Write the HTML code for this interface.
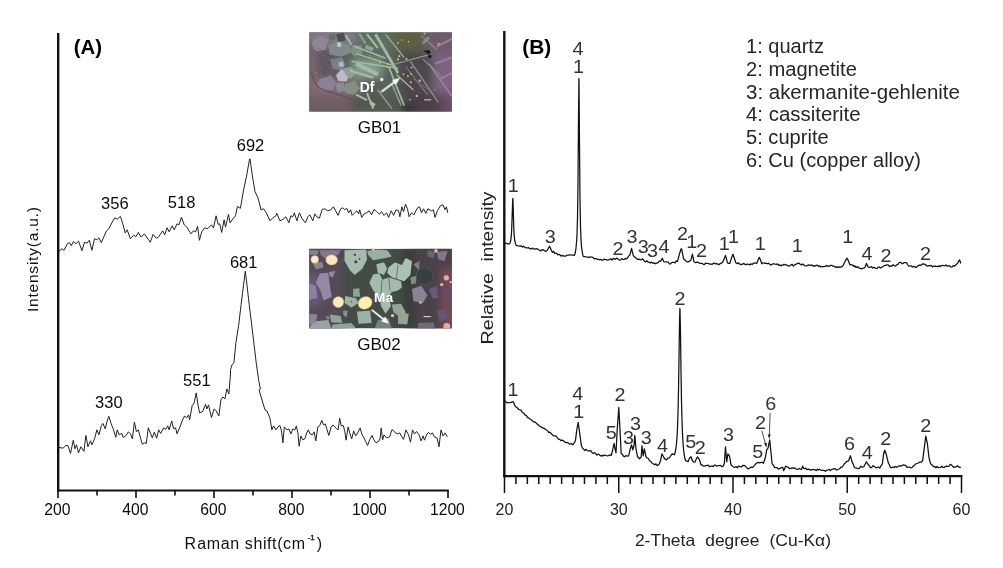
<!DOCTYPE html>
<html><head><meta charset="utf-8"><title>Figure</title>
<style>html,body{margin:0;padding:0;background:#fff}svg{display:block}</style>
</head><body>
<svg width="1003" height="568" viewBox="0 0 1003 568">
<rect width="1003" height="568" fill="#fff"/>
<g stroke="#111" fill="none">
<path d="M58.2,33 V491.5" stroke-width="2.4"/>
<path d="M57,490.5 H448.6" stroke-width="2"/>
<path d="M58.00,490 V498 M97.00,490 V495.5 M136.00,490 V498 M175.00,490 V495.5 M214.00,490 V498 M253.00,490 V495.5 M292.00,490 V498 M331.00,490 V495.5 M370.00,490 V498 M409.00,490 V495.5 M448.00,490 V498 " stroke-width="1.6"/>
</g>
<g stroke="#111" fill="none">
<path d="M504.3,31 V477.2" stroke-width="2.4"/>
<path d="M503.4,476.2 H962.4" stroke-width="2.2"/>
<path d="M504.50,476 V493 M515.92,476 V484 M527.35,476 V484 M538.77,476 V484 M550.20,476 V484 M561.62,476 V484 M573.05,476 V484 M584.48,476 V484 M595.90,476 V484 M607.33,476 V484 M618.75,476 V493 M630.17,476 V484 M641.60,476 V484 M653.02,476 V484 M664.45,476 V484 M675.88,476 V484 M687.30,476 V484 M698.73,476 V484 M710.15,476 V484 M721.58,476 V484 M733.00,476 V493 M744.42,476 V484 M755.85,476 V484 M767.28,476 V484 M778.70,476 V484 M790.12,476 V484 M801.55,476 V484 M812.98,476 V484 M824.40,476 V484 M835.83,476 V484 M847.25,476 V493 M858.67,476 V484 M870.10,476 V484 M881.53,476 V484 M892.95,476 V484 M904.38,476 V484 M915.80,476 V484 M927.23,476 V484 M938.65,476 V484 M950.08,476 V484 M961.50,476 V493 " stroke-width="1.5"/>
</g>
<path d="M58.6,251.7 L62.0,248.7 L64.0,250.3 L67.4,243.7 L69.4,242.7 L71.3,245.7 L73.3,241.7 L75.9,243.7 L78.5,241.1 L81.9,250.7 L84.5,242.3 L86.9,243.1 L89.3,240.3 L91.9,250.3 L94.5,238.8 L96.9,239.8 L98.9,237.8 L101.3,242.7 L103.8,236.8 L106.5,230.8 L108.8,228.8 L111.8,222.8 L114.8,217.8 L117.2,219.2 L120.4,216.4 L122.8,223.8 L125.2,232.8 L127.2,229.8 L130.4,238.8 L133.8,235.2 L135.8,236.8 L138.3,232.4 L141.1,237.2 L144.3,233.8 L147.1,237.8 L150.3,242.3 L153.1,234.4 L156.3,238.3 L158.7,236.8 L162.7,230.8 L164.7,234.8 L167.1,227.8 L169.1,231.8 L172.2,225.8 L174.2,229.8 L177.0,223.8 L179.0,224.8 L181.4,217.2 L184.2,224.8 L186.6,226.8 L191.0,233.8 L193.4,230.8 L195.6,231.8 L197.6,226.4 L199.4,240.3 L201.8,231.8 L204.6,227.8 L207.5,228.8 L211.5,224.8 L213.5,227.8 L216.1,215.8 L218.1,224.4 L219.7,223.8 L221.7,232.4 L224.1,219.8 L225.5,227.2 L228.5,214.4 L230.1,222.8 L232.9,218.8 L235.5,215.8 L237.4,206.4 L240.4,208.4 L243.4,190.9 L246.4,176.9 L249.6,159.0 L250.0,158.9 L252.4,175.9 L255.0,191.8 L258.0,197.8 L261.0,209.8 L263.6,208.8 L266.4,212.8 L269.9,220.8 L272.9,217.8 L275.9,215.8 L276.9,213.4 L279.9,220.8 L282.9,219.4 L285.9,216.8 L288.9,222.8 L290.9,215.8 L292.9,216.8 L294.3,212.8 L296.9,220.8 L299.4,212.8 L302.2,218.8 L305.4,222.8 L307.8,216.8 L309.8,214.8 L312.8,220.8 L314.8,213.8 L316.8,216.8 L319.4,218.2 L322.2,209.4 L324.8,208.8 L327.8,210.8 L330.8,209.8 L333.4,206.8 L336.1,211.8 L338.1,215.4 L340.7,208.8 L342.7,207.8 L344.7,209.8 L346.7,208.2 L348.7,212.8 L350.7,209.8 L352.1,215.4 L354.7,212.8 L356.7,210.8 L358.7,213.8 L359.7,209.8 L361.7,217.4 L364.1,213.8 L366.6,212.8 L369.2,210.8 L371.6,214.8 L374.0,209.4 L376.6,211.4 L379.2,214.2 L381.6,211.8 L384.0,215.4 L386.6,212.8 L388.6,217.4 L391.2,210.8 L393.6,215.4 L396.0,209.8 L398.6,210.8 L399.9,216.8 L401.9,206.8 L403.5,211.8 L405.5,204.2 L407.5,208.8 L409.1,216.8 L411.5,212.8 L413.9,214.8 L417.5,207.8 L419.5,206.8 L421.5,212.8 L423.5,208.8 L425.9,213.4 L427.9,208.8 L431.5,210.8 L433.4,209.8 L435.0,217.4 L437.4,210.8 L440.4,205.8 L443.0,204.8 L445.0,209.8 L446.4,206.8 L447.8,212.8" fill="none" stroke="#222" stroke-width="1" stroke-linejoin="round"/>
<path d="M59.0,447.4 L63.0,448.2 L66.0,445.4 L68.0,445.8 L70.5,453.4 L73.3,440.2 L74.9,448.8 L76.5,444.8 L78.5,452.8 L80.9,446.8 L83.9,451.4 L85.9,435.4 L87.9,446.8 L90.5,440.8 L91.9,444.8 L94.5,438.8 L96.9,429.8 L98.9,434.8 L101.3,425.8 L102.9,423.4 L105.2,428.8 L107.2,420.9 L108.8,416.3 L111.2,423.8 L113.2,428.8 L115.8,437.4 L117.2,429.8 L119.2,434.8 L121.8,433.4 L123.2,437.4 L125.8,435.8 L128.4,431.8 L130.4,433.8 L132.4,438.8 L134.4,422.2 L136.4,431.8 L138.3,429.8 L140.7,438.8 L142.3,444.2 L144.3,442.8 L146.3,443.4 L148.3,427.8 L150.7,433.8 L152.3,437.8 L154.3,432.2 L156.7,438.2 L158.7,429.8 L160.7,433.4 L163.7,427.8 L165.7,429.4 L167.7,425.8 L169.1,429.8 L171.7,420.9 L173.6,428.8 L175.6,427.8 L177.0,433.8 L179.6,427.8 L182.6,419.9 L184.6,415.9 L186.6,417.9 L188.6,414.9 L189.6,419.9 L192.2,405.5 L194.2,402.9 L196.2,392.9 L198.2,405.9 L199.6,412.9 L202.6,411.5 L205.6,404.3 L206.9,408.9 L208.5,404.9 L211.5,417.5 L214.1,408.9 L216.1,410.9 L218.9,415.9 L220.9,399.9 L222.9,396.9 L224.9,398.9 L226.9,388.9 L228.9,393.9 L230.5,374.0 L230.5,369.7 L232.2,364.4 L234.0,362.7 L235.8,343.3 L238.6,325.7 L241.1,304.6 L243.5,285.2 L245.3,271.1 L247.0,285.2 L249.2,304.6 L251.6,323.9 L254.1,345.1 L256.2,362.7 L258.7,380.3 L260.4,389.1 L259.0,390.0 L262.0,400.0 L265.0,409.9 L266.9,410.9 L269.9,417.9 L271.9,429.9 L273.5,425.9 L275.9,429.9 L277.9,426.9 L279.9,425.5 L281.5,430.9 L282.9,442.8 L284.3,426.9 L286.9,429.9 L288.9,428.9 L290.9,433.9 L292.9,428.9 L294.9,429.9 L296.3,425.9 L297.9,432.9 L299.1,446.2 L300.9,435.9 L302.8,439.9 L304.8,438.9 L306.8,432.9 L308.2,429.9 L310.2,433.9 L312.2,434.9 L314.2,431.9 L315.8,440.9 L317.8,426.9 L319.8,425.5 L321.8,420.3 L323.4,424.9 L325.4,423.9 L326.8,428.9 L328.8,435.5 L330.8,427.9 L332.8,424.9 L334.8,426.9 L336.7,428.9 L338.1,429.9 L339.7,418.3 L341.3,425.9 L343.3,425.5 L344.7,430.9 L346.1,440.2 L348.1,426.9 L349.7,432.9 L351.7,438.9 L353.7,430.9 L355.7,435.9 L357.7,432.9 L360.1,427.9 L362.1,434.9 L364.1,437.9 L365.6,441.4 L367.6,445.4 L369.6,439.9 L372.0,435.5 L374.0,439.9 L376.0,442.8 L378.6,441.4 L380.0,438.9 L381.2,427.9 L382.6,439.9 L384.0,434.9 L386.6,437.9 L389.6,436.9 L392.0,429.5 L394.6,431.9 L397.2,433.9 L399.6,432.9 L401.6,436.3 L403.5,439.4 L405.9,429.9 L408.5,434.9 L410.5,442.2 L412.5,429.9 L414.5,433.9 L416.5,431.5 L419.1,434.9 L421.1,440.9 L423.1,435.9 L424.5,440.2 L426.5,434.9 L428.5,432.3 L430.5,434.3 L432.4,432.9 L434.4,436.9 L437.0,437.9 L439.0,446.8 L441.0,429.9 L443.0,435.9 L445.0,432.9 L447.4,436.9" fill="none" stroke="#222" stroke-width="1" stroke-linejoin="round"/>
<path d="M505.0,243.4 L506.5,243.3 L508.0,243.8 L508.5,243.9 L509.0,244.0 L509.5,243.8 L510.1,242.8 L510.6,241.1 L511.1,238.0 L511.6,231.6 L512.1,218.0 L512.7,199.7 L512.8,198.3 L513.2,207.4 L513.7,225.8 L514.2,235.7 L514.7,240.5 L515.3,243.0 L515.8,244.5 L516.3,245.5 L516.8,245.6 L517.3,245.7 L517.9,245.8 L518.4,245.9 L518.9,246.0 L519.4,246.1 L519.9,246.2 L521.2,245.8 L522.4,247.1 L523.7,246.2 L524.9,247.4 L526.2,247.8 L527.4,247.8 L528.7,247.6 L529.9,248.8 L531.2,248.9 L532.4,248.1 L533.7,249.0 L534.9,249.2 L536.1,248.6 L537.4,248.9 L538.6,249.8 L539.9,250.2 L541.0,250.9 L542.2,249.6 L543.4,249.9 L544.5,250.8 L545.7,251.6 L546.9,250.8 L548.2,248.6 L549.5,246.2 L550.5,248.3 L551.5,250.8 L552.5,252.4 L553.6,251.2 L554.6,253.5 L555.7,253.0 L556.8,253.4 L557.8,254.8 L559.0,254.3 L560.2,255.0 L561.4,256.2 L562.6,255.3 L563.8,256.2 L565.0,256.1 L566.2,255.9 L567.4,255.1 L568.6,255.2 L569.8,254.8 L570.3,254.8 L570.8,254.9 L571.3,255.0 L571.8,255.1 L572.4,255.1 L572.9,255.2 L573.4,255.2 L573.9,255.3 L574.4,255.4 L574.9,254.0 L575.4,252.0 L575.9,248.8 L576.4,243.8 L577.0,235.0 L577.5,218.2 L578.0,183.6 L578.5,117.7 L578.9,78.5 L579.0,81.0 L579.5,145.1 L580.0,199.6 L580.5,226.1 L581.0,239.4 L581.5,246.6 L582.1,251.0 L582.6,253.8 L583.1,255.7 L583.6,256.6 L584.1,256.6 L584.6,256.7 L585.1,256.8 L585.6,256.8 L586.1,256.9 L586.7,257.0 L587.2,257.0 L587.7,257.1 L588.2,257.2 L588.7,257.2 L589.2,257.3 L589.7,257.4 L590.8,256.8 L591.9,257.0 L593.1,257.6 L594.2,258.8 L595.3,258.6 L596.4,258.6 L597.5,259.4 L598.6,259.4 L599.7,259.8 L600.8,259.3 L601.9,260.3 L603.0,260.0 L604.1,259.1 L605.2,259.7 L606.3,259.5 L607.5,260.2 L608.6,259.9 L609.7,259.4 L610.8,258.9 L611.9,260.1 L613.1,258.3 L614.2,258.9 L615.4,259.4 L616.5,258.1 L617.6,258.8 L619.6,260.2 L620.8,259.8 L621.9,258.6 L623.1,259.5 L624.2,259.3 L625.3,258.6 L626.5,258.9 L627.6,257.8 L628.8,255.9 L630.0,254.8 L631.6,248.4 L633.2,255.4 L634.3,256.8 L635.4,257.6 L636.5,258.5 L637.6,259.4 L638.8,259.1 L640.1,259.7 L641.3,259.8 L642.6,258.8 L643.6,260.0 L644.6,261.4 L645.7,261.8 L646.9,260.7 L648.1,262.2 L649.2,262.2 L650.4,263.0 L651.5,262.1 L652.9,263.3 L654.2,262.8 L655.5,263.8 L656.8,262.9 L658.0,262.9 L659.3,261.0 L660.5,261.4 L662.3,258.2 L663.9,261.8 L665.0,262.0 L666.1,261.8 L667.2,262.0 L668.3,262.2 L669.4,264.0 L670.5,263.8 L671.7,262.6 L672.8,262.4 L674.0,262.3 L675.1,262.9 L676.3,260.9 L677.5,261.4 L679.5,253.8 L681.1,248.8 L681.6,248.8 L683.6,258.8 L684.7,259.7 L685.9,260.9 L687.0,261.8 L688.3,261.9 L689.6,261.1 L691.0,259.8 L692.4,254.2 L694.0,261.8 L695.5,262.7 L697.0,262.2 L698.4,262.4 L699.9,263.4 L701.0,263.3 L702.2,263.3 L703.3,264.4 L704.4,264.7 L705.5,263.2 L706.6,263.3 L707.7,263.5 L708.8,263.6 L709.9,264.2 L711.0,264.1 L712.1,264.3 L713.2,263.6 L714.3,263.0 L715.4,263.8 L716.6,263.7 L717.7,264.0 L718.8,264.8 L719.9,263.8 L721.4,263.2 L722.9,261.8 L724.2,258.7 L725.5,255.4 L726.5,259.1 L727.5,262.8 L728.7,263.3 L729.9,263.4 L731.5,257.8 L733.0,254.2 L734.4,258.5 L735.8,262.8 L737.2,263.6 L738.5,262.9 L739.8,264.2 L741.1,264.7 L742.5,264.2 L743.8,263.4 L745.0,264.4 L746.2,264.6 L747.4,264.0 L748.6,264.3 L749.8,264.8 L751.0,263.8 L752.1,264.6 L753.3,263.2 L754.4,263.0 L755.6,263.1 L756.8,263.4 L758.1,259.7 L759.4,257.4 L760.6,260.3 L761.8,263.8 L762.9,263.0 L764.0,262.9 L765.2,263.3 L766.3,263.2 L767.5,263.8 L768.6,263.2 L769.7,264.2 L770.8,265.0 L771.9,264.6 L773.1,263.7 L774.2,264.0 L775.3,264.2 L776.4,264.3 L777.5,263.9 L778.6,265.4 L779.7,264.8 L780.8,265.9 L781.9,265.0 L783.0,265.1 L784.1,264.4 L785.2,264.6 L786.3,265.2 L787.5,265.1 L788.6,266.3 L789.7,265.8 L790.9,264.9 L792.2,264.4 L793.4,266.0 L794.7,264.8 L796.2,264.2 L797.6,263.4 L799.0,263.2 L800.3,264.4 L801.6,264.8 L802.8,263.9 L803.9,265.0 L805.1,266.0 L806.2,265.9 L807.3,265.6 L808.5,264.8 L809.6,265.4 L810.7,265.2 L811.8,264.8 L812.9,266.1 L814.0,265.6 L815.1,266.2 L816.3,265.3 L817.4,265.2 L818.5,266.4 L819.6,265.8 L820.7,266.8 L821.8,266.6 L822.9,266.5 L824.0,266.6 L825.1,266.5 L826.2,265.5 L827.3,266.1 L828.4,265.9 L829.5,266.2 L830.7,265.3 L831.8,265.4 L832.9,266.0 L834.0,266.0 L835.1,266.9 L836.2,267.5 L837.3,266.6 L838.4,267.6 L839.5,266.8 L840.9,267.1 L842.2,266.4 L843.5,264.8 L844.7,262.3 L845.9,259.9 L847.1,258.2 L848.5,261.0 L849.9,264.8 L851.0,264.5 L852.1,264.8 L853.2,265.9 L854.4,266.7 L855.5,266.2 L854.2,266.5 L852.9,265.4 L854.0,265.8 L855.2,266.7 L856.4,267.4 L857.6,266.5 L858.8,267.8 L860.2,268.3 L861.5,268.9 L862.8,268.2 L864.0,268.1 L865.2,266.8 L866.4,263.4 L868.0,266.8 L869.1,267.5 L870.3,267.1 L871.4,266.7 L872.5,268.0 L873.6,267.3 L874.8,267.8 L875.9,268.3 L877.1,268.5 L878.2,267.2 L879.3,267.0 L880.5,268.0 L881.6,267.4 L882.8,266.8 L884.3,265.4 L885.8,265.4 L887.0,264.8 L888.2,264.9 L889.5,266.5 L890.7,265.8 L891.9,266.2 L893.1,264.7 L894.3,265.9 L895.5,266.0 L896.7,264.8 L897.9,264.3 L899.1,262.8 L900.3,262.2 L901.5,263.1 L902.7,263.8 L904.2,262.5 L905.7,262.6 L906.7,262.7 L907.7,264.8 L908.9,266.1 L910.0,265.8 L911.2,265.9 L912.3,267.0 L913.5,266.3 L914.7,266.8 L915.9,267.3 L917.1,266.9 L918.3,265.4 L919.5,265.2 L920.6,265.4 L922.1,264.2 L923.6,263.8 L925.1,264.3 L926.6,265.8 L927.8,266.1 L928.9,265.5 L930.0,265.9 L931.2,265.4 L932.3,267.0 L933.5,266.0 L934.6,266.4 L935.7,266.2 L936.9,266.3 L938.0,266.8 L939.2,265.7 L940.3,266.5 L941.4,265.5 L942.6,265.4 L943.7,265.7 L944.9,265.8 L946.0,265.0 L947.1,266.1 L948.3,265.8 L949.4,265.6 L950.6,266.8 L951.9,267.2 L953.2,265.7 L954.5,266.2 L956.0,264.8 L957.5,263.4 L959.5,259.8 L960.9,263.4" fill="none" stroke="#111" stroke-width="1.25" stroke-linejoin="round"/>
<path d="M505.0,400.9 L506.5,402.4 L508.0,402.9 L509.5,402.7 L511.0,402.3 L513.0,401.5 L514.0,403.4 L515.0,405.9 L516.2,407.0 L517.5,408.0 L518.7,409.5 L519.9,409.9 L521.2,410.4 L522.4,412.5 L523.7,413.1 L524.9,414.9 L526.2,415.4 L527.4,417.4 L528.7,417.9 L529.9,418.9 L531.2,419.8 L532.4,420.9 L533.7,421.9 L534.9,421.9 L536.1,422.9 L537.4,424.3 L538.6,425.2 L539.9,426.3 L541.1,426.9 L542.4,427.9 L543.6,428.1 L544.9,428.9 L546.1,429.8 L547.4,430.5 L548.6,432.3 L549.9,432.2 L551.1,433.5 L552.3,434.8 L553.6,435.8 L554.8,435.8 L556.1,436.2 L557.3,437.7 L558.6,439.4 L559.8,439.4 L561.1,440.8 L562.3,440.1 L563.6,440.8 L564.8,442.2 L566.1,442.6 L567.3,442.4 L568.5,443.2 L569.8,444.2 L571.3,443.7 L572.8,444.8 L574.1,443.2 L575.4,440.8 L576.8,429.9 L578.2,422.3 L579.8,433.8 L581.4,445.8 L582.6,448.2 L583.8,449.4 L584.9,450.5 L586.1,449.3 L587.3,450.7 L588.5,450.8 L589.7,450.8 L590.9,450.7 L592.1,452.8 L593.3,453.5 L594.5,452.6 L595.7,453.8 L596.9,455.0 L598.1,454.2 L599.3,454.7 L600.5,456.0 L601.7,455.4 L602.9,456.1 L604.1,454.9 L605.3,455.5 L606.5,455.7 L607.7,455.8 L608.9,455.3 L610.1,454.9 L611.3,455.4 L612.7,449.8 L614.1,443.4 L615.2,449.8 L616.0,452.8 L617.2,429.9 L618.8,407.5 L620.0,429.9 L621.2,453.8 L622.4,454.4 L623.5,456.2 L624.6,456.8 L626.0,455.5 L627.3,456.2 L628.6,455.8 L630.0,449.8 L631.6,444.8 L632.8,449.8 L634.0,445.8 L634.8,435.4 L636.0,448.8 L637.6,456.8 L639.6,458.8 L641.2,456.8 L642.0,445.8 L643.2,455.8 L644.4,448.8 L646.0,456.8 L647.2,458.0 L648.4,458.5 L649.5,460.8 L650.8,461.4 L652.0,463.0 L653.3,463.8 L654.5,464.8 L655.9,463.9 L657.2,465.7 L658.5,464.8 L659.5,463.3 L660.5,460.8 L661.9,453.8 L663.5,456.8 L665.0,459.2 L666.5,459.8 L668.0,458.0 L669.5,457.8 L671.0,455.3 L672.5,453.8 L673.0,454.0 L673.5,454.3 L674.0,454.6 L674.5,454.6 L675.0,453.0 L675.5,450.8 L676.0,447.8 L676.5,443.5 L677.0,437.2 L677.5,427.8 L678.0,413.3 L678.5,390.8 L679.0,358.2 L679.5,322.2 L679.9,308.5 L680.0,309.1 L680.5,333.4 L681.0,370.7 L681.5,400.7 L682.0,420.8 L682.5,433.9 L683.0,442.7 L683.5,448.7 L684.0,453.1 L684.5,456.3 L685.0,458.8 L685.5,460.5 L686.0,460.7 L686.5,461.0 L687.0,461.2 L687.5,461.5 L688.0,461.8 L689.5,458.3 L691.0,456.8 L692.4,460.8 L693.7,462.0 L695.0,462.1 L696.3,459.0 L697.5,456.8 L698.9,458.8 L699.9,461.0 L700.9,464.8 L702.2,464.8 L703.4,466.1 L704.7,466.1 L705.9,465.7 L707.1,465.3 L708.3,465.2 L709.5,466.8 L710.7,466.2 L711.9,466.1 L713.1,466.5 L714.2,465.2 L715.4,465.1 L716.6,466.2 L717.7,465.7 L718.9,465.7 L720.4,465.4 L721.9,466.7 L723.1,466.1 L724.3,463.8 L725.5,446.8 L726.7,461.8 L727.9,453.8 L729.5,455.8 L731.0,464.8 L732.3,465.9 L733.6,467.1 L734.8,467.3 L736.1,466.4 L737.3,467.8 L738.6,466.0 L739.8,466.7 L741.1,467.0 L742.5,465.7 L743.8,465.3 L745.1,465.9 L746.3,467.1 L747.5,468.7 L748.8,468.7 L750.1,467.8 L751.4,467.1 L752.8,467.3 L754.3,465.6 L755.8,463.8 L757.1,462.9 L758.4,462.3 L759.8,462.8 L761.0,462.3 L762.2,462.3 L763.4,463.4 L765.3,457.8 L766.7,449.8 L768.1,447.8 L769.7,439.8 L770.9,451.8 L772.1,463.8 L773.4,465.1 L774.7,467.7 L776.0,467.6 L777.2,467.8 L778.5,469.0 L779.7,468.7 L781.2,467.6 L782.7,467.3 L783.7,470.7 L785.7,466.1 L787.0,467.0 L788.3,467.2 L789.7,468.7 L790.9,468.4 L792.1,467.8 L793.3,468.2 L794.5,467.8 L795.6,468.7 L796.8,469.3 L798.0,469.1 L799.2,468.5 L800.4,469.2 L801.6,469.3 L802.6,466.1 L803.6,468.3 L804.6,468.7 L805.8,468.1 L807.0,469.7 L808.1,469.1 L809.3,469.4 L810.4,470.2 L811.6,469.7 L812.7,469.5 L813.9,469.6 L815.0,469.9 L816.2,470.5 L817.3,469.1 L818.4,470.1 L819.6,469.3 L820.8,470.1 L822.0,470.4 L823.2,470.3 L824.4,470.6 L825.6,471.3 L826.8,470.1 L828.0,469.9 L829.2,469.5 L830.4,470.5 L831.5,469.7 L832.7,469.1 L833.8,468.8 L835.0,468.5 L836.1,469.8 L837.2,469.8 L838.4,469.2 L839.5,468.7 L841.0,467.3 L842.5,466.7 L844.0,464.2 L845.5,462.8 L847.0,461.3 L848.5,460.8 L849.5,458.2 L850.5,455.8 L852.0,461.8 L853.2,464.1 L854.5,467.7 L855.6,468.0 L856.7,467.9 L857.8,468.7 L859.3,468.4 L860.8,466.1 L862.3,467.4 L863.8,466.7 L865.1,464.3 L866.4,461.8 L868.4,464.8 L869.4,465.7 L870.4,467.7 L871.6,467.7 L872.8,465.7 L874.3,466.4 L875.8,467.7 L877.1,467.6 L878.4,467.0 L879.8,468.1 L881.1,465.7 L882.4,463.8 L883.6,453.8 L884.8,450.2 L886.4,454.8 L888.3,462.8 L889.5,465.2 L890.7,467.7 L891.9,467.7 L893.1,467.0 L894.3,467.5 L895.5,466.4 L896.7,467.3 L898.1,466.5 L899.4,465.7 L900.7,466.1 L902.0,465.7 L903.4,464.7 L904.7,465.3 L905.7,465.4 L906.7,467.3 L907.9,467.0 L909.2,467.0 L910.4,467.8 L911.7,467.7 L913.0,466.5 L914.3,465.6 L915.7,463.8 L917.0,463.5 L918.3,463.1 L919.6,462.1 L921.1,462.2 L922.6,460.8 L924.0,449.8 L925.8,436.2 L927.4,443.8 L929.0,457.8 L930.6,463.8 L932.1,465.0 L933.6,466.7 L934.8,466.5 L935.9,467.9 L937.1,466.3 L938.3,467.6 L939.4,467.5 L940.6,467.3 L941.8,466.2 L943.0,467.5 L944.2,467.4 L945.4,466.6 L946.6,466.1 L947.8,466.3 L949.1,466.1 L950.3,464.4 L951.5,464.8 L952.5,466.1 L953.5,467.3 L954.9,466.8 L956.2,466.9 L957.5,465.7 L958.7,466.9 L959.8,467.5 L960.9,467.3" fill="none" stroke="#111" stroke-width="1.25" stroke-linejoin="round"/>
<g font-family="Liberation Sans, sans-serif" fill="#1c1c1c">
<text x="73.8" y="54.2" font-size="20" font-weight="bold" fill="#000" textLength="28.3" lengthAdjust="spacingAndGlyphs">(A)</text>
<text x="522.3" y="53.6" font-size="19.5" font-weight="bold" fill="#000" textLength="29" lengthAdjust="spacingAndGlyphs">(B)</text>
<text x="57.4" y="515" font-size="15.7" text-anchor="middle" fill="#0a0a0a">200</text>
<text x="135.4" y="515" font-size="15.7" text-anchor="middle" fill="#0a0a0a">400</text>
<text x="213.4" y="515" font-size="15.7" text-anchor="middle" fill="#0a0a0a">600</text>
<text x="291.4" y="515" font-size="15.7" text-anchor="middle" fill="#0a0a0a">800</text>
<text x="369.4" y="515" font-size="15.7" text-anchor="middle" fill="#0a0a0a">1000</text>
<text x="447.4" y="515" font-size="15.7" text-anchor="middle" fill="#0a0a0a">1200</text>
<text x="504.5" y="515" font-size="16" text-anchor="middle" fill="#222">20</text>
<text x="618.8" y="515" font-size="16" text-anchor="middle" fill="#222">30</text>
<text x="733.0" y="515" font-size="16" text-anchor="middle" fill="#222">40</text>
<text x="847.2" y="515" font-size="16" text-anchor="middle" fill="#222">50</text>
<text x="961.5" y="515" font-size="16" text-anchor="middle" fill="#222">60</text>
<text x="184.4" y="549" font-size="16" fill="#111" letter-spacing="0.6">R<tspan dx="0.8">aman shift(cm</tspan><tspan dy="-9" dx="2" font-size="8" letter-spacing="0" stroke="#111" stroke-width="0.3">-1</tspan><tspan dy="9" dx="2">)</tspan></text>
<text x="634.9" y="546" font-size="16.5" textLength="60.3" lengthAdjust="spacingAndGlyphs" fill="#222">2-Theta</text>
<text x="705.3" y="546" font-size="16.5" textLength="54.1" lengthAdjust="spacingAndGlyphs" fill="#222">degree</text>
<text x="769.5" y="546" font-size="16.5" textLength="61.5" lengthAdjust="spacingAndGlyphs" fill="#222">(Cu-Kα)</text>
<text transform="translate(38,259.6) rotate(-90)" font-size="15.5" text-anchor="middle" textLength="105" lengthAdjust="spacing" fill="#111">Intensity(a.u.)</text>
<text transform="translate(492.5,344.6) rotate(-90)" font-size="16" textLength="71.5" lengthAdjust="spacingAndGlyphs" fill="#222">Relative</text>
<text transform="translate(492.5,261.6) rotate(-90)" font-size="16" textLength="70" lengthAdjust="spacingAndGlyphs" fill="#222">intensity</text>
<text x="114.8" y="208.8" font-size="16.5" text-anchor="middle" fill="#0a0a0a">356</text>
<text x="181.6" y="208.4" font-size="16.5" text-anchor="middle" fill="#0a0a0a">518</text>
<text x="250.5" y="150.5" font-size="16.5" text-anchor="middle" fill="#0a0a0a">692</text>
<text x="108.8" y="407.9" font-size="16.5" text-anchor="middle" fill="#0a0a0a">330</text>
<text x="196.8" y="386.4" font-size="16.5" text-anchor="middle" fill="#0a0a0a">551</text>
<text x="243.7" y="267.6" font-size="16.5" text-anchor="middle" fill="#0a0a0a">681</text>
<text x="379.5" y="132.8" font-size="17" text-anchor="middle" fill="#0a0a0a">GB01</text>
<text x="379" y="349.5" font-size="17" text-anchor="middle" fill="#0a0a0a">GB02</text>
<text x="746" y="53.3" font-size="19.3" fill="#262626" textLength="77.9" lengthAdjust="spacingAndGlyphs">1: quartz</text>
<text x="746" y="76.0" font-size="19.3" fill="#262626" textLength="110.9" lengthAdjust="spacingAndGlyphs">2: magnetite</text>
<text x="746" y="98.7" font-size="19.3" fill="#262626" textLength="213.9" lengthAdjust="spacingAndGlyphs">3: akermanite-gehlenite</text>
<text x="746" y="121.4" font-size="19.3" fill="#262626" textLength="114.6" lengthAdjust="spacingAndGlyphs">4: cassiterite</text>
<text x="746" y="144.1" font-size="19.3" fill="#262626" textLength="82.7" lengthAdjust="spacingAndGlyphs">5: cuprite</text>
<text x="746" y="166.8" font-size="19.3" fill="#262626" textLength="174.9" lengthAdjust="spacingAndGlyphs">6: Cu (copper alloy)</text>
<text x="578" y="54.8" font-size="18.4" text-anchor="middle" fill="#333" textLength="11" lengthAdjust="spacingAndGlyphs">4</text>
<text x="578.6" y="73.4" font-size="18.4" text-anchor="middle" fill="#333" textLength="11" lengthAdjust="spacingAndGlyphs">1</text>
<text x="513.2" y="192" font-size="18.4" text-anchor="middle" fill="#333" textLength="11" lengthAdjust="spacingAndGlyphs">1</text>
<text x="550.2" y="242.8" font-size="18.4" text-anchor="middle" fill="#333" textLength="11" lengthAdjust="spacingAndGlyphs">3</text>
<text x="618" y="254.8" font-size="18.4" text-anchor="middle" fill="#333" textLength="11" lengthAdjust="spacingAndGlyphs">2</text>
<text x="632" y="242.8" font-size="18.4" text-anchor="middle" fill="#333" textLength="11" lengthAdjust="spacingAndGlyphs">3</text>
<text x="643.2" y="253.4" font-size="18.4" text-anchor="middle" fill="#333" textLength="11" lengthAdjust="spacingAndGlyphs">3</text>
<text x="652.5" y="257.4" font-size="18.4" text-anchor="middle" fill="#333" textLength="11" lengthAdjust="spacingAndGlyphs">3</text>
<text x="663.9" y="252.8" font-size="18.4" text-anchor="middle" fill="#333" textLength="11" lengthAdjust="spacingAndGlyphs">4</text>
<text x="682.5" y="240.4" font-size="18.4" text-anchor="middle" fill="#333" textLength="11" lengthAdjust="spacingAndGlyphs">2</text>
<text x="691.7" y="248.4" font-size="18.4" text-anchor="middle" fill="#333" textLength="11" lengthAdjust="spacingAndGlyphs">1</text>
<text x="701.5" y="256.8" font-size="18.4" text-anchor="middle" fill="#333" textLength="11" lengthAdjust="spacingAndGlyphs">2</text>
<text x="724.3" y="249.9" font-size="18.4" text-anchor="middle" fill="#333" textLength="11" lengthAdjust="spacingAndGlyphs">1</text>
<text x="733.4" y="242.9" font-size="18.4" text-anchor="middle" fill="#333" textLength="11" lengthAdjust="spacingAndGlyphs">1</text>
<text x="760.2" y="249.9" font-size="18.4" text-anchor="middle" fill="#333" textLength="11" lengthAdjust="spacingAndGlyphs">1</text>
<text x="797.2" y="252.2" font-size="18.4" text-anchor="middle" fill="#333" textLength="11" lengthAdjust="spacingAndGlyphs">1</text>
<text x="847.7" y="242.9" font-size="18.4" text-anchor="middle" fill="#333" textLength="11" lengthAdjust="spacingAndGlyphs">1</text>
<text x="867.1" y="260.1" font-size="18.4" text-anchor="middle" fill="#333" textLength="11" lengthAdjust="spacingAndGlyphs">4</text>
<text x="886" y="261.8" font-size="18.4" text-anchor="middle" fill="#333" textLength="11" lengthAdjust="spacingAndGlyphs">2</text>
<text x="925.6" y="260.4" font-size="18.4" text-anchor="middle" fill="#333" textLength="11" lengthAdjust="spacingAndGlyphs">2</text>
<text x="513" y="395.5" font-size="18.4" text-anchor="middle" fill="#333" textLength="11" lengthAdjust="spacingAndGlyphs">1</text>
<text x="577.8" y="399.5" font-size="18.4" text-anchor="middle" fill="#333" textLength="11" lengthAdjust="spacingAndGlyphs">4</text>
<text x="578.8" y="417.9" font-size="18.4" text-anchor="middle" fill="#333" textLength="11" lengthAdjust="spacingAndGlyphs">1</text>
<text x="620" y="401" font-size="18.4" text-anchor="middle" fill="#333" textLength="11" lengthAdjust="spacingAndGlyphs">2</text>
<text x="611.3" y="438.8" font-size="18.4" text-anchor="middle" fill="#333" textLength="11" lengthAdjust="spacingAndGlyphs">5</text>
<text x="628.6" y="443.8" font-size="18.4" text-anchor="middle" fill="#333" textLength="11" lengthAdjust="spacingAndGlyphs">3</text>
<text x="635.6" y="429.5" font-size="18.4" text-anchor="middle" fill="#333" textLength="11" lengthAdjust="spacingAndGlyphs">3</text>
<text x="646.2" y="443.8" font-size="18.4" text-anchor="middle" fill="#333" textLength="11" lengthAdjust="spacingAndGlyphs">3</text>
<text x="662.5" y="451.8" font-size="18.4" text-anchor="middle" fill="#333" textLength="11" lengthAdjust="spacingAndGlyphs">4</text>
<text x="679.9" y="304.5" font-size="18.4" text-anchor="middle" fill="#333" textLength="11" lengthAdjust="spacingAndGlyphs">2</text>
<text x="690.7" y="447.8" font-size="18.4" text-anchor="middle" fill="#333" textLength="11" lengthAdjust="spacingAndGlyphs">5</text>
<text x="700.2" y="453.8" font-size="18.4" text-anchor="middle" fill="#333" textLength="11" lengthAdjust="spacingAndGlyphs">2</text>
<text x="728.5" y="440.8" font-size="18.4" text-anchor="middle" fill="#333" textLength="11" lengthAdjust="spacingAndGlyphs">3</text>
<text x="757.8" y="458.2" font-size="18.4" text-anchor="middle" fill="#333" textLength="11" lengthAdjust="spacingAndGlyphs">5</text>
<text x="760.4" y="428.9" font-size="18.4" text-anchor="middle" fill="#333" textLength="11" lengthAdjust="spacingAndGlyphs">2</text>
<text x="770.7" y="409.5" font-size="18.4" text-anchor="middle" fill="#333" textLength="11" lengthAdjust="spacingAndGlyphs">6</text>
<text x="849.5" y="450.2" font-size="18.4" text-anchor="middle" fill="#333" textLength="11" lengthAdjust="spacingAndGlyphs">6</text>
<text x="867.3" y="458.5" font-size="18.4" text-anchor="middle" fill="#333" textLength="11" lengthAdjust="spacingAndGlyphs">4</text>
<text x="885.8" y="445.4" font-size="18.4" text-anchor="middle" fill="#333" textLength="11" lengthAdjust="spacingAndGlyphs">2</text>
<text x="925.8" y="432.2" font-size="18.4" text-anchor="middle" fill="#333" textLength="11" lengthAdjust="spacingAndGlyphs">2</text>
</g>
<g stroke="#222" stroke-width="0.8" fill="#222"><path d="M761.8,430.8 L766.1,445.8"/><path d="M770.1,412.9 L769.3,436.8"/><path d="M766.6,447.5 l-2.6,-4 l2.8,-0.8z M769.2,439 l-1.5,-4.5 l3,0.1z" stroke="none"/></g>
<defs>
<clipPath id="c1"><rect x="42" y="33" width="676" height="377"/></clipPath>
<clipPath id="c2"><rect x="42" y="40" width="676" height="378"/></clipPath>
<filter id="b3" x="-10%" y="-10%" width="120%" height="120%"><feGaussianBlur stdDeviation="3"/></filter>
<filter id="b14" x="-20%" y="-20%" width="140%" height="140%"><feGaussianBlur stdDeviation="14"/></filter>
<filter id="b30" x="-30%" y="-30%" width="160%" height="160%"><feGaussianBlur stdDeviation="26"/></filter>
<filter id="b4" x="-10%" y="-10%" width="120%" height="120%"><feGaussianBlur stdDeviation="4.5"/></filter>
<filter id="b2" x="-10%" y="-10%" width="120%" height="120%"><feGaussianBlur stdDeviation="1.6"/></filter>
</defs>
<!-- inset 1 : GB01 -->
<g transform="translate(305,28) scale(0.15497)">
<clipPath id="c1b"><rect x="27" y="27" width="921" height="513"/></clipPath>
<g clip-path="url(#c1b)">
<rect x="27" y="27" width="921" height="513" fill="#56625b"/>
<g filter="url(#b30)">
<rect x="0" y="0" width="330" height="120" fill="#837a86"/>
<rect x="0" y="90" width="90" height="300" fill="#7c6872"/>
<rect x="70" y="120" width="150" height="200" fill="#625a66"/>
<rect x="0" y="330" width="360" height="120" fill="#84696f"/>
<rect x="0" y="440" width="460" height="120" fill="#6f5d60"/>
<rect x="300" y="430" width="340" height="120" fill="#525850"/>
<rect x="560" y="0" width="210" height="140" fill="#5f5f43"/>
<rect x="610" y="150" width="200" height="300" fill="#4c474b"/>
<rect x="790" y="0" width="180" height="200" fill="#705a6e"/>
<rect x="840" y="180" width="130" height="240" fill="#806384"/>
<rect x="660" y="430" width="310" height="130" fill="#4b4047"/>
<rect x="880" y="420" width="90" height="130" fill="#6d4d6b"/>
<rect x="620" y="490" width="90" height="60" fill="#2c2e2c"/>
<rect x="300" y="200" width="200" height="120" fill="#84a08e"/>
<rect x="330" y="30" width="230" height="140" fill="#5e6e64"/>
</g>
<g filter="url(#b4)">
<polygon points="50,75 100,50 150,75 135,140 70,150 45,110" fill="#8e8596"/>
<polygon points="150,45 190,35 200,75 160,80" fill="#6d6a72"/>
<polygon points="200,40 250,30 262,80 215,90" fill="#4f4c54"/>
<polygon points="150,110 215,85 290,110 300,160 230,185 160,170" fill="#7e8b88"/>
<polygon points="205,95 230,92 235,120 212,125" fill="#c4c3d2"/>
<polygon points="300,120 365,110 372,165 320,185 295,160" fill="#7c9083"/>
<polygon points="165,200 240,190 262,240 230,275 175,262" fill="#788088"/>
<polygon points="215,225 245,215 252,250 222,252" fill="#b5b3c4"/>
<polygon points="200,305 235,265 285,300 270,345 215,342" fill="#bdbaca"/>
<polygon points="95,330 165,305 200,350 180,400 110,405 80,365" fill="#8b8197"/>
<polygon points="195,355 250,350 262,405 210,418" fill="#878c94"/>
<polygon points="255,365 320,340 355,390 315,430 262,420" fill="#80927f"/>
<polygon points="240,260 300,250 330,290 290,330 262,300" fill="#8aa292"/>
<g stroke="#3e3a3e" stroke-width="3" fill="none" opacity="0.55">
<path d="M60,150 L190,260 M80,130 L200,210 M70,200 L180,300 M60,250 L150,320 M100,170 L130,300"/>
</g>
<path d="M40,290 Q60,380 120,400 Q260,440 420,505" stroke="#5a5356" stroke-width="9" fill="none" opacity="0.8"/>
<g stroke="#a2bba8" fill="none">
<path d="M262,45 L300,110" stroke-width="12"/>
<path d="M350,35 L390,100" stroke-width="16" stroke="#7f9a88"/>
<path d="M400,40 L470,130" stroke-width="14"/>
<path d="M455,40 L600,290" stroke-width="18"/>
<path d="M520,40 L640,190" stroke-width="9" stroke="#8ea896"/>
<path d="M310,115 L520,195" stroke-width="10"/>
<path d="M330,165 L560,240" stroke-width="9"/>
<path d="M300,215 L600,260" stroke-width="10"/>
<path d="M330,230 L470,300" stroke-width="26"/>
<path d="M290,275 L440,320" stroke-width="16"/>
<path d="M390,120 L440,140" stroke-width="26" stroke="#8aa595"/>
<path d="M540,250 L640,500" stroke-width="11"/>
<path d="M590,300 L700,400" stroke-width="8"/>
<path d="M400,420 L440,520" stroke-width="12"/>
<path d="M470,400 L560,520" stroke-width="9" stroke="#8aa090"/>
<path d="M560,360 L620,500" stroke-width="10" stroke="#8aa090"/>
<path d="M330,430 L400,465" stroke-width="12"/>
<path d="M420,480 L450,500" stroke-width="22" stroke="#a9b8ac"/>
<path d="M570,235 L790,175" stroke-width="7" stroke="#899a90"/>
</g>
<g fill="none">
<path d="M680,215 L860,480" stroke-width="10" stroke="#8f8399"/>
<path d="M650,250 L790,430" stroke-width="7" stroke="#7f7688"/>
<path d="M760,200 L900,330" stroke-width="8" stroke="#8a7a92"/>
<path d="M800,230 L948,440" stroke-width="11" stroke="#9a7fa0"/>
<path d="M700,330 L800,400" stroke-width="7" stroke="#6f6878"/>
<path d="M750,50 L850,140" stroke-width="10" stroke="#7d877f"/>
<path d="M850,120 L948,70" stroke-width="12" stroke="#9a7fa2"/>
<path d="M840,230 L948,190" stroke-width="16" stroke="#9a7aa0"/>
<path d="M870,330 L948,290" stroke-width="10" stroke="#a080a4"/>
<path d="M760,100 L800,60" stroke-width="18" stroke="#8a8a8a"/>
</g>
<circle cx="795" cy="155" r="13" fill="#151517"/><circle cx="806" cy="184" r="11" fill="#1c1a1e"/><circle cx="775" cy="150" r="7" fill="#222"/>
<g fill="#e6b95a">
<circle cx="608" cy="182" r="7"/><circle cx="600" cy="203" r="7"/><circle cx="655" cy="200" r="7"/><circle cx="485" cy="222" r="6"/><circle cx="535" cy="232" r="6"/>
<circle cx="528" cy="250" r="5"/><circle cx="688" cy="255" r="6"/><circle cx="636" cy="298" r="6"/><circle cx="664" cy="310" r="6"/><circle cx="685" cy="297" r="6"/><circle cx="683" cy="350" r="7"/>
<circle cx="740" cy="340" r="8" fill="#e2a47a"/><circle cx="600" cy="95" r="6"/><circle cx="668" cy="88" r="5"/><circle cx="625" cy="78" r="5"/><circle cx="355" cy="172" r="4"/>
<circle cx="722" cy="438" r="8" fill="#d99a7c"/><circle cx="678" cy="462" r="6" fill="#d99a7c"/><circle cx="862" cy="102" r="7" fill="#e2a47a"/><circle cx="772" cy="36" r="7" fill="#e2a47a"/>
<circle cx="835" cy="398" r="5" fill="#c98a88"/><circle cx="72" cy="288" r="4" fill="#d8a070"/><circle cx="445" cy="297" r="4"/><circle cx="420" cy="180" r="4" fill="#c9a060"/>
</g>
<circle cx="495" cy="332" r="11" fill="#f7eeb2"/>
</g>
<g filter="url(#b2)">
<path d="M492,412 L585,342" stroke="#fff" stroke-width="12" fill="none"/>
<polygon points="614,320 562,336 586,366" fill="#fff"/>
<rect x="768" y="460" width="46" height="7" fill="#e8e0e8" opacity="0.8"/>
</g>
</g>
<text x="353" y="413" font-family="Liberation Sans, sans-serif" font-weight="bold" font-size="90" fill="#fff" stroke="#8a8f90" stroke-width="1.5" paint-order="stroke">Df</text>
</g>
<!-- inset 2 : GB02 -->
<g transform="translate(305,244) scale(0.15497)">
<clipPath id="c2b"><rect x="27" y="30" width="921" height="515"/></clipPath>
<g clip-path="url(#c2b)">
<rect x="27" y="30" width="921" height="515" fill="#434c45"/>
<g filter="url(#b30)">
<rect x="0" y="0" width="250" height="570" fill="#554b57"/>
<rect x="0" y="200" width="100" height="200" fill="#6a5a78"/>
<rect x="690" y="0" width="280" height="570" fill="#4a4248"/>
<rect x="880" y="150" width="90" height="420" fill="#744a58"/>
<rect x="640" y="30" width="60" height="515" fill="#353b37"/>
</g>
<g filter="url(#b4)">
<g fill="#a3bcae">
<polygon points="255,40 395,35 400,100 370,160 320,200 290,170 255,110"/>
<polygon points="400,45 470,35 530,40 560,80 520,90 440,105 410,75" fill="#97b0a4"/>
<polygon points="460,130 510,118 530,160 510,200 470,185"/>
<polygon points="540,150 580,120 625,135 650,90 690,110 680,200 640,240 560,215 530,185" fill="#abc1b3"/>
<polygon points="440,195 480,190 500,230 540,215 620,240 625,280 600,300 560,310 540,340 555,400 520,450 490,400 480,340 440,300 415,250"/>
<polygon points="310,290 350,285 355,340 310,340" fill="#8aa697"/>
<polygon points="260,335 330,350 345,380 300,410 255,380" fill="#9bb4a6"/>
<polygon points="335,435 420,430 430,510 345,515" fill="#9ab2a5"/>
<polygon points="560,390 620,385 650,440 610,470 570,440" fill="#8fa599"/>
<polygon points="600,440 670,450 660,520 600,515" fill="#94a496"/>
<polygon points="160,455 230,465 240,510 170,505" fill="#8ea69a"/>
<polygon points="50,500 150,490 170,545 27,545" fill="#97a5a2"/>
<polygon points="180,520 300,510 330,545 170,545" fill="#8ea398"/>
<polygon points="470,490 540,480 560,545 450,545" fill="#74857c"/>
<polygon points="245,430 275,430 270,470 250,465" fill="#7f978a"/>
</g>
<g fill="#333b35"><circle cx="322" cy="70" r="7"/><circle cx="328" cy="116" r="9"/><circle cx="352" cy="96" r="5"/><circle cx="300" cy="372" r="4"/></g>
<g stroke="#434c45" stroke-width="4" fill="none"><path d="M497,230 L490,330 M540,215 L548,300 M600,135 L590,225"/></g>
<g fill="#9588a4">
<polygon points="95,190 150,185 165,300 175,340 120,365 100,300 70,250"/>
<polygon points="27,255 70,270 80,350 27,360" fill="#8d7fa2"/>
<polygon points="50,125 110,115 120,150 70,165" fill="#8d829a"/>
<polygon points="155,180 195,175 180,215 160,210"/>
<polygon points="95,40 230,38 215,70 130,95 100,70" fill="#82778e"/>
<polygon points="27,40 90,40 80,70 27,70" fill="#8a7f95"/>
<polygon points="27,450 80,455 70,510 27,520" fill="#8f8298"/>
<polygon points="130,465 160,470 150,495" fill="#8f8298"/>
</g>
<g fill="#786a8a">
<polygon points="690,290 750,270 790,330 760,380 700,370" fill="#8a8396"/>
<polygon points="800,290 850,270 860,350 820,350" fill="#6a5878"/>
<polygon points="790,40 840,50 830,90 790,80" fill="#6a6472"/>
<polygon points="850,50 920,45 900,110 860,100" fill="#857590"/>
<polygon points="700,130 740,110 735,170" fill="#7a8480"/>
<polygon points="850,430 900,420 930,480 870,500" fill="#6a5570"/>
<polygon points="730,510 830,505 840,545 730,545" fill="#6f6a75"/>
<polygon points="680,215 720,205 715,255 685,260" fill="#7d8c84"/>
<polygon points="880,300 930,290 940,340 890,350" fill="#6a4a62"/>
</g>
<circle cx="772" cy="207" r="55" fill="#39413c" stroke="#525a54" stroke-width="5"/>
<circle cx="63" cy="100" r="25" fill="#f8efcf" stroke="#c9955a" stroke-width="3"/>
<ellipse cx="172" cy="103" rx="38" ry="33" fill="#f6e9c0" stroke="#c9955a" stroke-width="3"/>
<circle cx="215" cy="375" r="36" fill="#f6eabc" stroke="#b98a4a" stroke-width="3"/>
<ellipse cx="388" cy="380" rx="47" ry="40" fill="#f8efb8" stroke="#b98a4a" stroke-width="3" transform="rotate(-25 388 380)"/>
<circle cx="565" cy="462" r="11" fill="#edc878"/><ellipse cx="635" cy="445" rx="12" ry="7" fill="#d8a060" transform="rotate(-30 635 445)"/>
<g fill="#f2a898"><circle cx="912" cy="218" r="17"/><circle cx="882" cy="262" r="11"/><circle cx="745" cy="378" r="9"/><circle cx="845" cy="45" r="12" fill="#e8b0a0"/><circle cx="915" cy="532" r="22" fill="#e8a8a0"/><circle cx="941" cy="245" r="8"/><circle cx="440" cy="32" r="10" fill="#e8c890"/></g>
</g>
<g filter="url(#b2)">
<path d="M430,425 L512,490" stroke="#fff" stroke-width="11" fill="none"/>
<polygon points="542,514 492,500 518,468" fill="#fff"/>
<rect x="765" y="465" width="48" height="7" fill="#f0e8f0" opacity="0.9"/>
</g>
</g>
<text x="446" y="377" font-family="Liberation Sans, sans-serif" font-weight="bold" font-size="88" fill="#fff" stroke="#9aa0a8" stroke-width="1.5" paint-order="stroke">Ma</text>
</g>

</svg>
</body></html>
